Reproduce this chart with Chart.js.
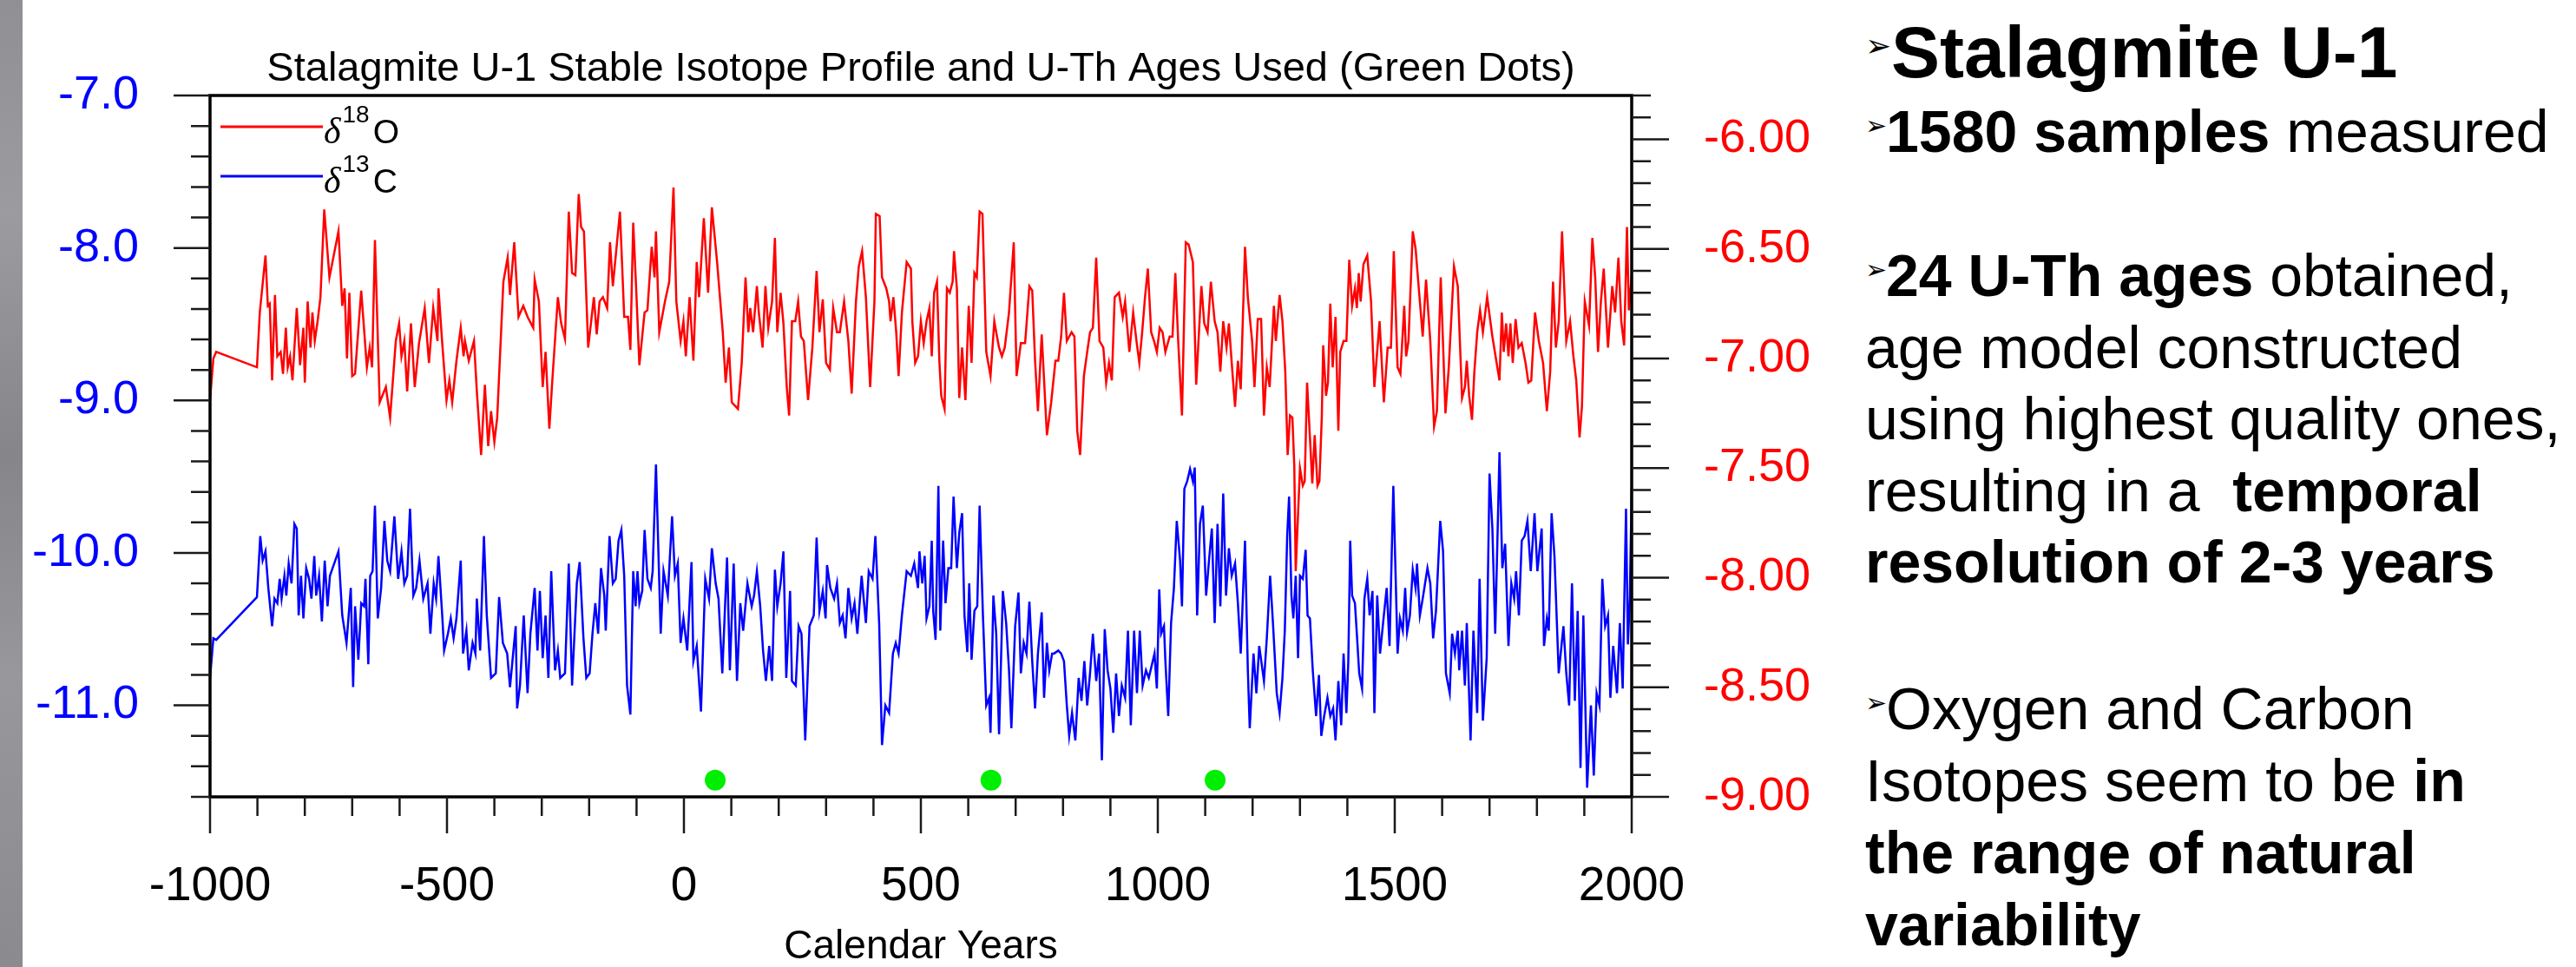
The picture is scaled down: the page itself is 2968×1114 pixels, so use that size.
<!DOCTYPE html>
<html>
<head>
<meta charset="utf-8">
<title>Stalagmite U-1</title>
<script src="https://cdn.jsdelivr.net/npm/chart.js@4"></script>
<style>
  html, body { margin: 0; padding: 0; background: #fff; }
  body { width: 2968px; height: 1114px; position: relative; overflow: hidden; font-family: "Liberation Sans", Arial, sans-serif; }
  #rock { position: absolute; left: 0; top: 0; width: 26px; height: 1114px;
          background: linear-gradient(180deg, #8f8f94 0%, #9c9ca0 22%, #85858a 47%, #98989c 70%, #8a8a8f 100%); }
  #graph { position: absolute; left: 0; top: 0; }
  .line { position: absolute; left: 2149px; white-space: nowrap; font-size: 68px; line-height: 82px; color: #000; }
  .head { font-size: 84px; line-height: 100px; }
  .arw { display: inline-block; width: 24px; font-size: 30px; line-height: 1; vertical-align: 20px; font-family: "DejaVu Sans"; font-weight: normal; }
  .head .arw { width: 30px; font-size: 36px; vertical-align: 24px; }
</style>
</head>
<body>
<div id="rock"></div>
<canvas id="graph" width="2100" height="1114"></canvas>

<div class="line head" style="top:10px"><span class="arw">➢</span><b>Stalagmite U-1</b></div>
<div class="line" style="top:110px"><span class="arw">➢</span><b>1580 samples</b> measured</div>
<div class="line" style="top:276px"><span class="arw">➢</span><b>24 U-Th ages</b> obtained,</div>
<div class="line" style="top:359px">age model constructed</div>
<div class="line" style="top:441px">using highest quality ones,</div>
<div class="line" style="top:524px">resulting in a&nbsp; <b>temporal</b></div>
<div class="line" style="top:606px"><b>resolution of 2-3 years</b></div>
<div class="line" style="top:775px"><span class="arw">➢</span>Oxygen and Carbon</div>
<div class="line" style="top:858px">Isotopes seem to be <b>in</b></div>
<div class="line" style="top:941px"><b>the range of natural</b></div>
<div class="line" style="top:1024px"><b>variability</b></div>

<script>
// tick labels
var xTicks = [-1000, -500, 0, 500, 1000, 1500, 2000];
var leftTicks = [-7, -8, -9, -10, -11];
var rightTicks = [-6, -6.5, -7, -7.5, -8, -8.5, -9];

// d18O (right axis)
var o18Years = [
  -1000, -993, -987, -901, -895, -883, -878, -874, -869, -863,
  -858, -851, -846, -840, -836, -831, -826, -817, -810, -803,
  -800, -794, -788, -784, -779, -773, -767, -759, -748, -729,
  -721, -716, -711, -706, -700, -694, -681, -669, -663, -658,
  -652, -642, -629, -620, -608, -601, -596, -590, -584, -576,
  -568, -559, -547, -538, -529, -520, -518, -510, -501, -495,
  -489, -480, -471, -465, -462, -454, -443, -437, -428, -420,
  -413, -407, -400, -394, -381, -372, -367, -358, -349, -339,
  -330, -318, -315, -306, -298, -292, -284, -278, -266, -259,
  -251,
  -243, -236, -229, -222, -217, -211, -202, -190, -184, -178,
  -171, -162, -156, -150, -135, -126, -118, -113, -107, -101,
  -94, -83, -77, -68, -62, -59, -52, -40, -31, -22,
  -16, -7, -1, 4, 12, 20, 27, 32, 42, 51,
  59, 70, 82, 88, 95, 101, 114, 122, 130, 136,
  140, 146, 154, 158, 166, 172, 178, 186, 192, 197,
  204, 210, 217, 222, 228, 235, 241, 247, 253, 262,
  271, 280, 286, 293, 300, 308, 315, 323, 329, 338,
  347, 354, 363, 369, 376, 384, 393, 402, 405, 413,
  418, 427, 433, 436, 442, 448, 453, 460, 470, 479,
  482, 488,
  494, 500, 506, 512, 518, 523, 528, 534, 539, 543,
  550, 555, 561, 567, 570, 576, 581, 587, 594, 601,
  607, 613, 618, 624, 630, 638, 647, 655, 659, 665,
  671, 677, 686, 696, 702, 711, 720, 729, 735, 741,
  747, 755, 766, 775, 784, 790, 796, 802, 808, 818,
  824, 830, 836, 844, 851, 857, 863, 870, 877, 885,
  891, 897, 903, 909, 918, 926, 931, 940, 948, 955,
  961, 967, 973, 979, 986, 992, 998, 1004, 1010, 1016,
  1025, 1031, 1037, 1043, 1051, 1059, 1065, 1074, 1081, 1092,
  1098, 1105, 1112, 1120, 1126, 1132, 1138, 1145, 1150, 1156,
  1163, 1169, 1175, 1184, 1190, 1199, 1204, 1211, 1218, 1224,
  1230, 1236,
  1245, 1249, 1257, 1263, 1269, 1274, 1279, 1284, 1288, 1291,
  1294, 1300, 1306, 1310, 1315, 1321, 1326, 1331, 1337, 1341,
  1346, 1349, 1355, 1359, 1364, 1369, 1375, 1381, 1385, 1392,
  1398, 1404, 1410, 1416, 1420, 1424, 1428, 1434, 1442, 1450,
  1457, 1468, 1477, 1485, 1492, 1498, 1506, 1512, 1520, 1524,
  1529, 1538, 1544, 1553, 1559, 1566, 1575, 1583, 1589, 1597,
  1607, 1614, 1625, 1633, 1642, 1648, 1652, 1657, 1663, 1668,
  1674, 1680, 1686, 1695, 1706, 1715, 1721, 1726, 1730, 1735,
  1740, 1744, 1749, 1755, 1761, 1768, 1776, 1782, 1788, 1796,
  1804, 1813, 1821, 1828, 1834, 1840, 1846, 1853, 1862, 1870,
  1877, 1883, 1890, 1895, 1901, 1910, 1917, 1923, 1929, 1935,
  1941, 1950, 1959, 1965, 1972, 1978, 1984, 1990, 1994, 2000
];
var o18Values = [
  -7.19, -7.00, -6.97, -7.04, -6.79, -6.53, -6.76, -6.75, -7.10, -6.71,
  -6.99, -6.97, -7.07, -6.86, -7.04, -6.99, -7.10, -6.77, -7.03, -6.86,
  -7.11, -6.74, -6.95, -6.79, -6.92, -6.83, -6.72, -6.32, -6.63, -6.42,
  -6.76, -6.68, -7.00, -6.70, -7.08, -7.07, -6.69, -7.04, -6.95, -7.04,
  -6.46, -7.20, -7.13, -7.27, -6.92, -6.84, -6.99, -6.92, -7.15, -6.84,
  -7.13, -6.93, -6.77, -7.02, -6.77, -6.92, -6.68, -6.93, -7.19, -7.10,
  -7.20, -7.01, -6.86, -6.99, -6.92, -7.01, -6.92, -7.15, -7.44, -7.12,
  -7.40, -7.24, -7.38, -7.27, -6.65, -6.54, -6.71, -6.47, -6.81, -6.76,
  -6.81, -6.86, -6.64, -6.74, -7.13, -6.97, -7.32, -7.11, -6.72, -6.84,
  -6.91,
  -6.33, -6.61, -6.62, -6.25, -6.40, -6.42, -6.95, -6.72, -6.89, -6.74,
  -6.72, -6.77, -6.47, -6.67, -6.33, -6.81, -6.81, -6.96, -6.38, -6.67,
  -7.03, -6.79, -6.78, -6.49, -6.63, -6.42, -6.88, -6.74, -6.65, -6.22,
  -6.74, -6.92, -6.83, -6.99, -6.72, -7.01, -6.56, -6.72, -6.36, -6.70,
  -6.31, -6.56, -6.88, -7.11, -6.95, -7.20, -7.23, -7.02, -6.63, -6.88,
  -6.77, -6.88, -6.67, -6.79, -6.95, -6.67, -6.86, -6.74, -6.45, -6.88,
  -6.70, -6.84, -7.13, -7.26, -6.83, -6.83, -6.74, -6.90, -6.92, -7.19,
  -6.95, -6.60, -6.88, -6.73, -7.02, -7.05, -6.77, -6.88, -6.88, -6.74,
  -6.92, -7.16, -6.74, -6.58, -6.51, -6.72, -7.13, -6.74, -6.34, -6.35,
  -6.63, -6.68, -6.74, -6.83, -6.72, -6.88, -7.08, -6.79, -6.56, -6.59,
  -6.83, -7.02,
  -6.99, -6.83, -6.93, -6.83, -6.77, -6.99, -6.70, -6.65, -7.01, -7.17,
  -7.23, -6.68, -6.70, -6.65, -6.51, -6.68, -7.18, -6.95, -7.19, -6.76,
  -7.02, -6.61, -6.63, -6.33, -6.34, -6.97, -7.08, -6.83, -6.88, -6.95,
  -6.99, -6.95, -6.79, -6.47, -7.08, -6.93, -6.93, -6.67, -6.69, -7.01,
  -7.24, -6.89, -7.35, -7.20, -7.01, -7.01, -6.90, -6.70, -6.92, -6.88,
  -6.90, -7.33, -7.44, -7.08, -6.97, -6.88, -6.86, -6.54, -6.92, -6.95,
  -7.11, -7.02, -7.10, -6.72, -6.70, -6.81, -6.74, -6.97, -6.79, -6.92,
  -7.02, -6.88, -6.72, -6.59, -6.88, -6.92, -6.97, -6.86, -6.88, -6.97,
  -6.90, -6.90, -6.61, -6.92, -7.26, -6.47, -6.48, -6.56, -7.12, -6.67,
  -6.84, -6.88, -6.65, -6.83, -6.88, -7.06, -6.83, -6.95, -6.84, -7.02,
  -7.22, -7.01, -7.14, -6.49, -6.72, -6.92, -7.13, -6.82, -6.82, -7.26,
  -7.04, -7.13,
  -6.76, -6.92, -6.71, -6.83, -7.06, -7.44, -7.26, -7.27, -7.49, -7.97,
  -7.81, -7.50, -7.58, -7.56, -7.11, -7.36, -7.57, -7.35, -7.58, -7.56,
  -7.27, -6.94, -7.17, -7.11, -6.75, -7.04, -6.81, -7.33, -6.97, -6.92,
  -6.92, -6.55, -6.76, -6.68, -6.77, -6.61, -6.74, -6.57, -6.53, -6.74,
  -7.13, -6.83, -7.20, -6.95, -6.95, -6.51, -7.04, -7.07, -6.76, -6.99,
  -6.92, -6.42, -6.50, -6.74, -6.90, -6.64, -6.92, -7.31, -7.24, -6.63,
  -7.25, -7.04, -6.58, -6.67, -7.18, -7.13, -7.01, -7.17, -7.28, -7.06,
  -6.88, -6.78, -6.88, -6.72, -6.90, -7.02, -7.10, -6.79, -6.97, -6.84,
  -6.99, -6.84, -7.02, -6.82, -6.95, -6.93, -7.02, -7.11, -7.10, -6.79,
  -6.92, -7.02, -7.24, -7.06, -6.65, -6.95, -6.83, -6.42, -6.92, -6.83,
  -6.99, -7.10, -7.36, -7.22, -6.74, -6.85, -6.45, -6.63, -6.97, -6.74,
  -6.59, -6.95, -6.67, -6.79, -6.54, -6.83, -6.94, -6.40, -6.78, -6.62
];

// d13C (left axis)
var c13Years = [
  -1000, -993, -987, -901, -894, -889, -883, -877, -869, -864,
  -858, -853, -849, -843, -839, -834, -828, -822, -817, -813,
  -808, -803, -797, -791, -786, -780, -776, -770, -764, -758,
  -752, -747, -729, -721, -712, -703, -698, -694, -687, -681,
  -675, -672, -666, -662, -657, -652, -646, -639, -632, -626,
  -620, -611, -603, -596, -590, -584, -578, -571, -565, -558,
  -550, -541, -535, -528, -523, -518, -510, -506, -498, -492,
  -486, -480, -471, -466, -459, -454, -446, -440, -437, -430,
  -422, -416, -407, -397, -390, -382, -373, -367, -355, -352,
  -346, -338, -330, -324, -315, -309, -304, -298, -292, -286,
  -280, -272, -266, -261, -251,
  -243, -236, -226, -220, -212, -206, -199, -193, -187, -181,
  -175, -168, -165, -157, -150, -144, -138, -132, -126, -120,
  -113, -107, -102, -98, -94, -88, -83, -77, -70, -66,
  -59, -49, -43, -34, -25, -19, -13, -7, -1, 7,
  16, 20, 27, 36, 45, 53, 59, 67, 73, 81,
  91, 97, 105, 112, 119, 125, 134, 143, 148, 154,
  161, 167, 173, 180, 186, 192, 197, 204, 210, 216,
  224, 228, 236, 242, 248, 256, 265, 274, 280, 286,
  293, 299, 302, 309, 317, 323, 329, 335, 341, 347,
  354, 360, 366, 375, 384, 390, 398, 404, 412, 418,
  425, 433, 441, 447, 453, 460, 470, 479, 486,
  494, 497, 503, 508, 512, 518, 523, 526, 531, 537,
  541, 547, 552, 558, 564, 569, 576, 581, 587, 592,
  598, 602, 607, 613, 619, 624, 631, 638, 644, 647,
  653, 659, 665, 673, 680, 686, 691, 699, 706, 711,
  717, 723, 729, 735, 741, 747, 755, 760, 766, 771,
  777, 781, 790, 796, 802, 808, 813, 819, 826, 833,
  839, 845, 851, 857, 863, 870, 876, 882, 888, 894,
  900, 906, 912, 918, 924, 931, 937, 943, 950, 956,
  962, 968, 975, 981, 987, 993, 998, 1003, 1007, 1013,
  1016, 1022, 1028, 1034, 1040, 1047, 1051, 1056, 1062, 1068,
  1074, 1078, 1083, 1089, 1095, 1102, 1108, 1114, 1120, 1126,
  1132, 1138, 1144, 1150, 1156, 1163, 1169, 1175, 1184, 1190,
  1194, 1202, 1208, 1214, 1224, 1230, 1237, 1243, 1251,
  1257, 1263, 1268, 1273, 1277, 1282, 1286, 1291, 1296, 1300,
  1306, 1312, 1316, 1321, 1327, 1334, 1340, 1345, 1351, 1358,
  1364, 1370, 1375, 1381, 1387, 1392, 1398, 1402, 1406, 1410,
  1416, 1420, 1425, 1431, 1436, 1442, 1447, 1453, 1457, 1463,
  1469, 1477, 1483, 1489, 1497, 1506, 1511, 1517, 1522, 1526,
  1532, 1538, 1544, 1547, 1553, 1559, 1569, 1575, 1581, 1587,
  1596, 1602, 1608, 1616, 1621, 1627, 1633, 1636, 1642, 1648,
  1652, 1660, 1666, 1674, 1679, 1686, 1694, 1700, 1706, 1712,
  1721, 1727, 1733, 1740, 1746, 1752, 1756, 1762, 1768, 1774,
  1780, 1787, 1795, 1801, 1810, 1815, 1821, 1825, 1831, 1837,
  1846, 1856, 1862, 1868, 1874, 1880, 1886, 1892, 1898, 1906,
  1914, 1920, 1926, 1932, 1938, 1944, 1950, 1955, 1961, 1969,
  1975, 1981, 1988, 1992, 1996, 2000
];
var c13Values = [
  -10.82, -10.56, -10.57, -10.29, -9.89, -10.05, -9.99, -10.23, -10.48, -10.30,
  -10.33, -10.17, -10.30, -10.15, -10.28, -10.07, -10.20, -9.81, -9.84, -10.41,
  -10.15, -10.43, -10.10, -10.17, -10.30, -10.02, -10.28, -10.15, -10.45, -10.05,
  -10.35, -10.15, -9.99, -10.41, -10.59, -10.23, -10.88, -10.35, -10.70, -10.33,
  -10.35, -10.17, -10.73, -10.15, -10.12, -9.69, -10.43, -10.23, -9.79, -10.05,
  -10.12, -9.76, -10.17, -9.99, -10.20, -10.15, -9.71, -10.28, -10.23, -10.05,
  -10.30, -10.20, -10.53, -10.20, -10.30, -10.02, -10.41, -10.64, -10.53, -10.43,
  -10.56, -10.43, -10.05, -10.66, -10.51, -10.77, -10.59, -10.66, -10.30, -10.64,
  -9.89, -10.41, -10.82, -10.79, -10.29, -10.59, -10.66, -10.88, -10.48, -11.02,
  -10.87, -10.41, -10.92, -10.53, -10.23, -10.64, -10.25, -10.69, -10.41, -10.82,
  -10.12, -10.77, -10.64, -10.82, -10.79,
  -10.07, -10.87, -10.20, -10.06, -10.56, -10.82, -10.79, -10.53, -10.33, -10.53,
  -10.10, -10.28, -10.51, -9.89, -10.20, -10.17, -9.92, -9.85, -10.15, -10.87,
  -11.06, -10.12, -10.35, -10.12, -10.33, -10.25, -9.85, -10.17, -10.23, -10.12,
  -9.42, -10.53, -10.12, -10.28, -9.76, -10.15, -10.07, -10.59, -10.43, -10.64,
  -10.06, -10.71, -10.61, -11.04, -10.17, -10.30, -9.97, -10.20, -10.30, -10.79,
  -10.03, -10.77, -10.07, -10.84, -10.33, -10.51, -10.20, -10.35, -10.28, -10.12,
  -10.35, -10.64, -10.84, -10.61, -10.84, -10.11, -10.35, -10.20, -9.99, -10.82,
  -10.25, -10.84, -10.87, -10.48, -10.53, -11.23, -10.48, -10.41, -9.90, -10.38,
  -10.25, -10.43, -10.08, -10.23, -10.30, -10.20, -10.46, -10.41, -10.56, -10.23,
  -10.43, -10.33, -10.53, -10.15, -10.46, -10.12, -10.17, -9.89, -10.46, -11.26,
  -11.00, -11.05, -10.66, -10.59, -10.66, -10.41, -10.12, -10.15, -10.07,
  -10.23, -9.99, -10.20, -10.02, -10.43, -10.35, -9.92, -10.38, -10.57, -9.56,
  -10.51, -9.92, -10.33, -10.10, -10.10, -9.63, -10.10, -9.87, -9.74, -10.41,
  -10.65, -10.20, -10.70, -10.38, -10.35, -9.69, -10.41, -11.00, -10.95, -11.18,
  -10.28, -10.53, -11.19, -10.25, -10.46, -10.77, -11.15, -10.48, -10.26, -10.79,
  -10.59, -10.66, -10.32, -10.71, -11.02, -10.66, -10.39, -10.95, -10.59, -10.77,
  -10.66, -10.66, -10.64, -10.66, -10.71, -11.00, -11.20, -11.05, -11.23, -10.82,
  -10.97, -10.71, -11.00, -10.79, -10.53, -10.84, -10.66, -11.36, -10.50, -10.77,
  -10.89, -11.18, -10.79, -11.07, -10.87, -10.95, -10.51, -11.13, -10.51, -10.92,
  -10.51, -10.87, -10.77, -10.82, -10.74, -10.66, -10.89, -10.24, -10.53, -10.48,
  -10.71, -11.07, -10.46, -10.23, -9.79, -10.05, -10.35, -9.58, -9.53, -9.45,
  -9.53, -9.44, -10.41, -9.81, -9.69, -10.28, -10.05, -9.84, -10.46, -9.81,
  -10.35, -9.61, -10.28, -9.97, -10.15, -10.07, -10.33, -10.66, -9.92, -10.77,
  -11.15, -10.66, -10.92, -10.61, -10.84, -10.56, -10.15, -10.46, -10.92,
  -11.05, -10.82, -10.51, -9.89, -9.63, -10.28, -10.43, -10.15, -10.69, -10.15,
  -10.17, -9.98, -10.41, -10.43, -10.77, -11.07, -10.80, -11.20, -11.07, -10.95,
  -11.07, -11.02, -11.23, -10.84, -11.13, -10.66, -11.05, -10.71, -9.92, -10.28,
  -10.33, -10.53, -10.79, -10.89, -10.30, -10.17, -10.41, -10.25, -11.05, -10.28,
  -10.66, -10.41, -10.23, -10.61, -9.56, -10.66, -10.43, -10.51, -10.23, -10.52,
  -10.41, -10.11, -10.23, -10.07, -10.41, -10.30, -10.10, -10.20, -10.56, -10.38,
  -9.79, -9.99, -10.79, -10.92, -10.53, -10.66, -10.51, -10.77, -10.51, -10.87,
  -10.46, -11.23, -10.51, -11.05, -10.17, -11.10, -10.69, -9.48, -9.84, -10.53,
  -9.34, -10.10, -9.94, -10.61, -10.20, -10.30, -10.12, -10.41, -9.92, -9.89,
  -9.79, -10.12, -9.74, -10.12, -9.84, -10.61, -10.43, -10.51, -9.74, -10.02,
  -10.79, -10.48, -10.79, -11.00, -10.20, -10.97, -10.38, -11.41, -10.41, -11.54,
  -11.00, -11.46, -10.92, -11.00, -10.17, -10.48, -10.41, -10.95, -10.61, -10.92,
  -10.46, -10.89, -9.71, -10.60, -10.30, -9.57
];

// U-Th ages used (green dots)
var uthYears = [66, 648, 1121];
var uthLevel = [-11.49, -11.49, -11.49];

function toPoints(xs, ys) {
  var n = Math.min(xs.length, ys.length);
  var pts = [];
  for (var i = 0; i < n; i++) {
    pts.push({ x: xs[i], y: ys[i] });
  }
  return pts;
}

function isMajor(v, list) {
  for (var i = 0; i < list.length; i++) {
    if (Math.abs(list[i] - v) < 1e-6) return true;
  }
  return false;
}

// title, frame, minor/major ticks and legend
var decorPlugin = {
  id: "decor",
  afterDraw: function(chart) {
    var ctx = chart.ctx;
    var area = chart.chartArea;
    var xs = chart.scales.x;
    var yl = chart.scales.yLeft;
    var yr = chart.scales.yRight;
    var k, v, p, len;

    ctx.save();

    // frame
    ctx.strokeStyle = "#000";
    ctx.lineWidth = 3.5;
    ctx.strokeRect(area.left, area.top, area.right - area.left, area.bottom - area.top);

    // ticks
    ctx.lineWidth = 2.5;
    ctx.strokeStyle = "#1a1a1a";
    ctx.beginPath();
    for (k = 0; k <= 30; k++) {
      v = -1000 + k * 100;
      p = xs.getPixelForValue(v);
      len = isMajor(v, xTicks) ? 42 : 22;
      ctx.moveTo(p, area.bottom);
      ctx.lineTo(p, area.bottom + len);
    }
    for (k = 0; k <= 23; k++) {
      v = Math.round((-11.6 + k * 0.2) * 10) / 10;
      p = yl.getPixelForValue(v);
      len = isMajor(v, leftTicks) ? 42 : 22;
      ctx.moveTo(area.left, p);
      ctx.lineTo(area.left - len, p);
    }
    for (k = 0; k <= 32; k++) {
      v = Math.round((-9 + k * 0.1) * 10) / 10;
      p = yr.getPixelForValue(v);
      len = isMajor(v, rightTicks) ? 43 : 22;
      ctx.moveTo(area.right, p);
      ctx.lineTo(area.right + len, p);
    }
    ctx.stroke();

    // title
    ctx.fillStyle = "#000";
    ctx.textAlign = "center";
    ctx.textBaseline = "alphabetic";
    ctx.font = '47px "Liberation Sans"';
    ctx.fillText("Stalagmite U-1 Stable Isotope Profile and U-Th Ages Used (Green Dots)",
      (area.left + area.right) / 2, area.top - 17);

    // legend
    drawLegendItem(ctx, area.left + 12, area.top + 36, "#ff0000", "18", "O");
    drawLegendItem(ctx, area.left + 12, area.top + 93, "#0000ff", "13", "C");

    ctx.restore();
  }
};

function drawLegendItem(ctx, x, y, color, mass, elem) {
  ctx.strokeStyle = color;
  ctx.lineWidth = 3;
  ctx.beginPath();
  ctx.moveTo(x, y);
  ctx.lineTo(x + 118, y);
  ctx.stroke();

  var tx = x + 119;
  var base = y + 19;
  ctx.fillStyle = "#000";
  ctx.textAlign = "left";
  ctx.textBaseline = "alphabetic";
  ctx.font = 'italic 42px "Liberation Serif"';
  ctx.fillText("\u03b4", tx, base);
  tx += ctx.measureText("\u03b4").width + 2;
  ctx.font = '28px "Liberation Sans"';
  ctx.fillText(mass, tx, base - 24);
  tx += ctx.measureText(mass).width + 4;
  ctx.font = '39px "Liberation Sans"';
  ctx.fillText(elem, tx, base);
}

function fixTicks(list) {
  return function(scale) {
    scale.ticks = list.map(function(v) { return { value: v }; });
  };
}

Chart.defaults.font.family = '"Liberation Sans", Arial, sans-serif';

var ctxGraph = document.getElementById("graph").getContext("2d");

var isotopeGraph = new Chart(ctxGraph, {
  type: "line",
  data: {
    datasets: [
      {
        type: "scatter",
        label: "U-Th ages",
        data: toPoints(uthYears, uthLevel),
        yAxisID: "yLeft",
        pointRadius: 12,
        pointBackgroundColor: "#00ee00",
        pointBorderWidth: 0,
        order: 0
      },
      {
        label: "\u03b418O",
        data: toPoints(o18Years, o18Values),
        yAxisID: "yRight",
        borderColor: "#ff0000",
        borderWidth: 2.5,
        pointRadius: 0,
        tension: 0,
        fill: false,
        order: 1
      },
      {
        label: "\u03b413C",
        data: toPoints(c13Years, c13Values),
        yAxisID: "yLeft",
        borderColor: "#0000ff",
        borderWidth: 2.5,
        pointRadius: 0,
        tension: 0,
        fill: false,
        order: 2
      }
    ]
  },
  options: {
    responsive: false,
    animation: false,
    events: [],
    layout: { padding: { top: 97, left: 0, right: 0, bottom: 0 } },
    plugins: {
      legend: { display: false },
      tooltip: { enabled: false },
      title: { display: false }
    },
    scales: {
      x: {
        type: "linear",
        position: "bottom",
        min: -1000,
        max: 2000,
        afterBuildTicks: fixTicks(xTicks),
        afterFit: function(s) { s.height = 196; },
        grid: { display: false, drawTicks: false },
        border: { display: false },
        ticks: {
          autoSkip: false,
          maxRotation: 0,
          padding: 76,
          color: "#000",
          font: { size: 55, lineHeight: 1 },
          callback: function(v) { return String(v); }
        },
        title: {
          display: true,
          text: "Calendar Years",
          color: "#000",
          padding: { top: 0, bottom: 0 },
          font: { size: 46, lineHeight: 1 }
        }
      },
      yLeft: {
        type: "linear",
        position: "left",
        min: -11.6,
        max: -7.0,
        afterBuildTicks: fixTicks(leftTicks),
        afterFit: function(s) { s.width = 242; },
        grid: { display: false, drawTicks: false },
        border: { display: false },
        ticks: {
          padding: 82,
          color: "#0000ff",
          font: { size: 54, lineHeight: 1 },
          callback: function(v) { return v.toFixed(1); }
        }
      },
      yRight: {
        type: "linear",
        position: "right",
        min: -9.0,
        max: -5.8,
        afterBuildTicks: fixTicks(rightTicks),
        afterFit: function(s) { s.width = 220; },
        grid: { display: false, drawTicks: false },
        border: { display: false },
        ticks: {
          padding: 83,
          color: "#ff0000",
          font: { size: 54, lineHeight: 1 },
          callback: function(v) { return v.toFixed(2); }
        }
      }
    }
  },
  plugins: [decorPlugin]
});
</script>
</body>
</html>
